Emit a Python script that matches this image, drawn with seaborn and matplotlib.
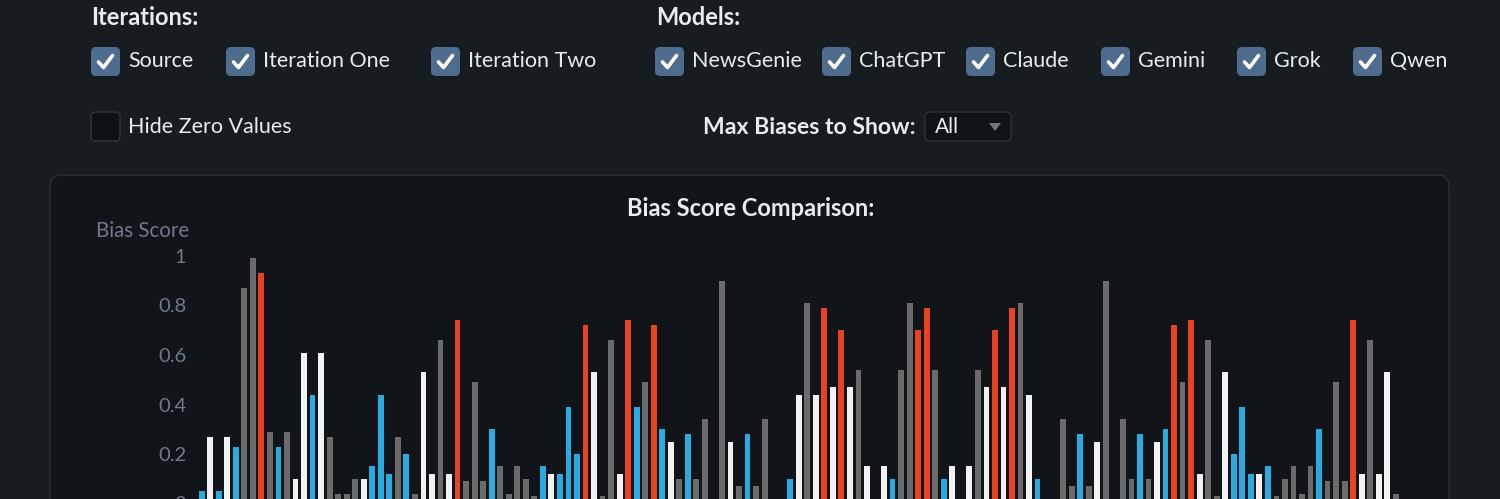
import numpy as np
import pandas as pd
import matplotlib.pyplot as plt
import seaborn as sns
from matplotlib.patches import FancyBboxPatch, Polygon

# bias scores, one bar per bias / model / iteration, left to right
scores = [
    0.05, 0.27, 0.05, 0.27, 0.23, 0.87, 0.99, 0.93, 0.29, 0.23,
    0.29, 0.10, 0.61, 0.44, 0.61, 0.27, 0.04, 0.04, 0.10, 0.10,
    0.15, 0.44, 0.12, 0.27, 0.20, 0.04, 0.53, 0.12, 0.66, 0.12,
    0.74, 0.09, 0.49, 0.09, 0.30, 0.15, 0.04, 0.15, 0.10, 0.03,
    0.15, 0.12, 0.12, 0.39, 0.20, 0.72, 0.53, 0.03, 0.66, 0.12,
    0.74, 0.39, 0.49, 0.72, 0.30, 0.25, 0.10, 0.28, 0.10, 0.34,
    0.00, 0.90, 0.25, 0.07, 0.28, 0.07, 0.34, 0.02, 0.00, 0.10,
    0.44, 0.81, 0.44, 0.79, 0.47, 0.70, 0.47, 0.54, 0.15, 0.02,
    0.15, 0.10, 0.54, 0.81, 0.70, 0.79, 0.54, 0.10, 0.15, 0.02,
    0.15, 0.54, 0.47, 0.70, 0.47, 0.79, 0.81, 0.44, 0.10, 0.00,
    0.02, 0.34, 0.07, 0.28, 0.07, 0.25, 0.90, 0.00, 0.34, 0.10,
    0.28, 0.10, 0.25, 0.30, 0.72, 0.49, 0.74, 0.12, 0.66, 0.03,
    0.53, 0.20, 0.39, 0.12, 0.12, 0.15, 0.03, 0.10, 0.15, 0.04,
    0.15, 0.30, 0.09, 0.49, 0.09, 0.74, 0.12, 0.66, 0.12, 0.53,
    0.04,
]
# bar group for each score (B, W, G, O)
groups = list(
    "BWBWBGGOGB"
    "GWWBWGGGGW"
    "BBBGBGWWGW"
    "OGGGBGGGGG"
    "BWBBBOWGGW"
    "OBGOBWGBGG"
    "GGWGBGGGGB"
    "WGWOWOWGWG"
    "WBGGOOGBWG"
    "WGWOWOGWBG"
    "GGGBGWGGGG"
    "BGWBOGOWGG"
    "WBBBWBGGGG"
    "GBGGGOWGWW"
    "G"
)
iterations = ["Source", "Iteration One", "Iteration Two"]
models = ["NewsGenie", "ChatGPT", "Claude", "Gemini", "Grok", "Qwen"]
y_ticks = [0, 0.2, 0.4, 0.6, 0.8, 1]
y_labels = ["0", "0.2", "0.4", "0.6", "0.8", "1"]

df = pd.DataFrame({"bar": [str(i) for i in range(len(scores))],
                   "score": scores, "group": groups})
palette = {"B": "#29abe2", "W": "#f2f2f2", "G": "#6b6b6b", "O": "#e8431c"}

page_bg = "#171c20"
panel_bg = "#111418"
box_blue = "#4d6c8e"
text_col = "#e9ecef"

sns.set_theme(style="white")
plt.rcParams["font.family"] = ["Lato", "DejaVu Sans"]

fig = plt.figure(figsize=(15, 4.99), dpi=100, facecolor=page_bg)

# pixel-space layer for the controls and the panel
ui = fig.add_axes([0, 0, 1, 1], zorder=0)
ui.set_xlim(0, 1500)
ui.set_ylim(499, 0)
ui.axis("off")

ui.add_patch(FancyBboxPatch((50, 175), 1399, 360,
                            boxstyle="round,pad=0,rounding_size=12",
                            facecolor=panel_bg, edgecolor="#2a3036", lw=1))


def checkbox(x, y, checked=True):
    if checked:
        ui.add_patch(FancyBboxPatch((x, y), 29, 29,
                                    boxstyle="round,pad=0,rounding_size=5",
                                    facecolor=box_blue, edgecolor="none"))
        ui.plot([x + 7.5, x + 12.5, x + 21.5], [y + 15, y + 20.5, y + 8.5],
                color="white", lw=2.6, solid_capstyle="round",
                solid_joinstyle="round")
    else:
        ui.add_patch(FancyBboxPatch((x, y), 29, 29,
                                    boxstyle="round,pad=0,rounding_size=5",
                                    facecolor="#0e1114", edgecolor="#2f353b",
                                    lw=1))


ui.text(91, 17, "Iterations:", fontsize=17, fontweight="bold",
        color=text_col, va="center")
ui.text(656, 17, "Models:", fontsize=17, fontweight="bold",
        color=text_col, va="center")

iter_x = [91, 226, 431]
for name, x in zip(iterations, iter_x):
    checkbox(x, 47)
    ui.text(x + 37, 61, name, fontsize=15.5, color=text_col, va="center")

model_x = [655, 822, 966, 1101, 1237, 1353]
for name, x in zip(models, model_x):
    checkbox(x, 47)
    ui.text(x + 37, 61, name, fontsize=15.5, color=text_col, va="center")

checkbox(91, 112, checked=False)
ui.text(128, 127, "Hide Zero Values", fontsize=15.5, color=text_col,
        va="center")

ui.text(916, 127, "Max Biases to Show:", fontsize=16.6, fontweight="bold",
        color=text_col, va="center", ha="right")
ui.add_patch(FancyBboxPatch((925, 112), 86, 29,
                            boxstyle="round,pad=0,rounding_size=5",
                            facecolor="#101316", edgecolor="#2c3238", lw=1))
ui.text(935, 127, "All", fontsize=15, color=text_col, va="center")
ui.add_patch(Polygon([[989, 123], [1001, 123], [995, 131]], closed=True,
                     facecolor="#6f757c", edgecolor="none"))

ui.text(751, 208, "Bias Score Comparison:", fontsize=17, fontweight="bold",
        color=text_col, va="center", ha="center")
ui.text(189, 231, "Bias Score", fontsize=14.8, color="#6f7a88",
        va="center", ha="right")

# the chart itself
ax = fig.add_axes([197.4 / 1500, -4.5 / 499, 1202.7 / 1500, 247.5 / 499],
                  zorder=1)
ax.set_facecolor("none")
sns.barplot(data=df, x="bar", y="score", hue="group", palette=palette,
            dodge=False, width=0.68, legend=False, ax=ax,
            saturation=1, linewidth=0)
ax.set_ylim(0, 1)
ax.set_xlim(-0.5, len(scores) - 0.5)
ax.set_yticks(y_ticks)
ax.set_yticklabels(y_labels)
ax.tick_params(axis="y", colors="#6f7a88", labelsize=14.5, length=0, pad=8)
ax.set_xticks([])
ax.set_xlabel("")
ax.set_ylabel("")
sns.despine(ax=ax, left=True, bottom=True)

fig.savefig("out.png", dpi=100, facecolor=page_bg)
